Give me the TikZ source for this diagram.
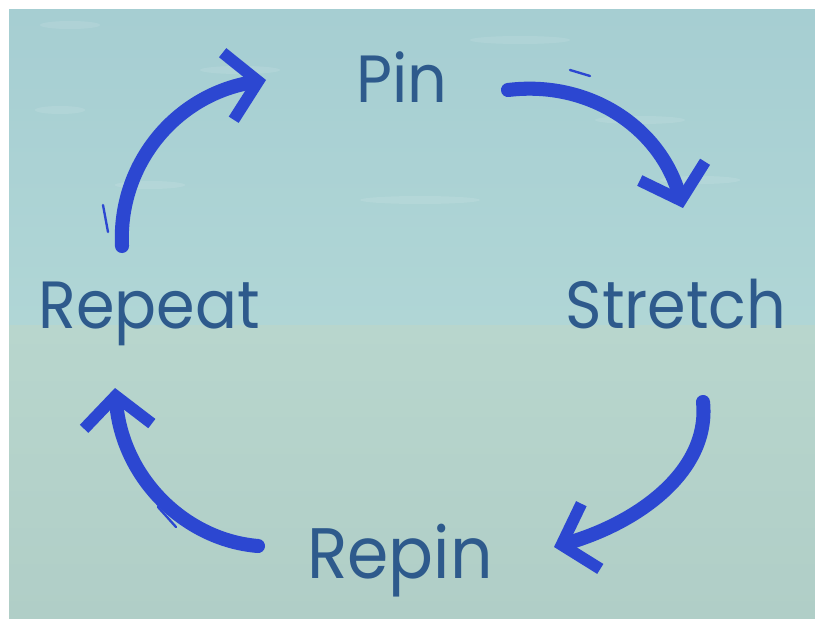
\documentclass[tikz,border=0pt]{standalone}
\usepackage{fontspec}
\setmainfont{Poppins}
\usepackage{xcolor}
\usetikzlibrary{arrows.meta,calc,positioning}
\definecolor{seatop}{RGB}{166,206,210}
\definecolor{seamid}{RGB}{176,214,214}
\definecolor{seabot}{RGB}{184,214,205}
\definecolor{seafloor}{RGB}{176,206,199}
\definecolor{wordblue}{RGB}{46,90,140}
\definecolor{brushblue}{RGB}{44,71,209}
\tikzset{%
	step word/.style = {font=\fontsize{57}{57}\selectfont, text=wordblue, anchor=base, inner sep=0pt, xscale=.93},
	brush/.style     = {draw=brushblue, line width=12pt, line cap=round, line join=round,
	                    -{Straight Barb[length=26pt,width=58pt,line width=10pt]}},
	streak/.style    = {draw=brushblue, line width=2pt, line cap=round},
}
\begin{document}
\begin{tikzpicture}[x=0.03cm,y=-0.03cm]
			\useasboundingbox (0,0) rectangle (815,619);
			\fill[white] (0,0) rectangle (815,619);
			% water, upper and lower half
			\shade[top color=seatop, bottom color=seamid] (9,10) rectangle (815,325);
			\shade[top color=seabot, bottom color=seafloor] (9,325) rectangle (815,619);
			\foreach \x/\y/\w in {70/25/30, 240/70/40, 520/40/50, 640/120/45, 150/185/35, 420/200/60, 700/180/40, 60/110/25}
				\fill[white,opacity=.1] (\x,\y) ellipse ({\w} and 4);
			
			\node[step word] (pin) at (402,102) {Pin};
			\node[step word] (stretch) at (676,328) {Stretch};
			\node[step word,font=\fontsize{61}{61}\selectfont] (repin) at (400,578) {Repin};
			\node[step word] (repeat) at (149,328) {Repeat};
			
			\coordinate (repeat tail) at (122,246);
			\coordinate (pin head) at (266,80);
			\coordinate (pin tail) at (508,90);
			\coordinate (stretch head) at (683,208);
			\coordinate (stretch tail) at (703,402);
			\coordinate (repin head) at (554,547);
			\coordinate (repin tail) at (258,546);
			\coordinate (repeat head) at (115,388);
			
			\draw[brush] (repeat tail) .. controls (118,165) and (175,95) .. (pin head);
			\draw[brush] (pin tail) .. controls (590,80) and (660,128) .. (stretch head);
			\draw[brush] (stretch tail) .. controls (710,470) and (640,522) .. (repin head);
			\draw[brush] (repin tail) .. controls (185,540) and (122,478) .. (repeat head);
			
			% loose bristle marks
			\draw[streak] (108,232) -- (103,205);
			\draw[streak] (570,70) -- (590,76);
			\draw[streak] (694,448) -- (686,468);
			\draw[streak] (158,507) -- (176,527);
\end{tikzpicture}
\end{document}
